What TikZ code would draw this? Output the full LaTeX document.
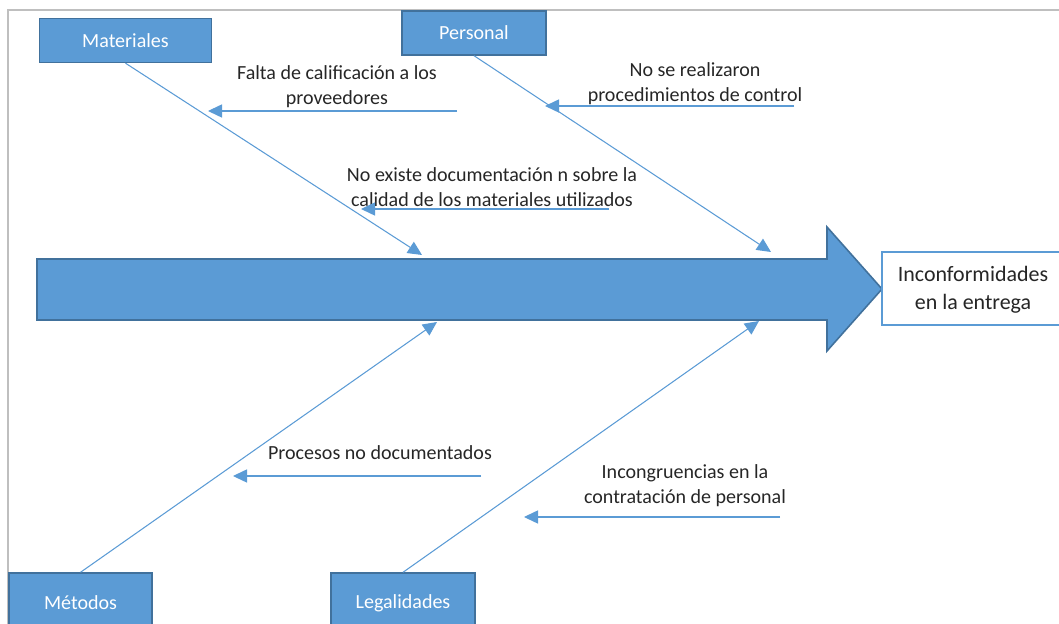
\documentclass[tikz,border=0pt]{standalone}
\usepackage{fontspec}
\setmainfont{Carlito}
\usetikzlibrary{arrows.meta}
\definecolor{azul}{HTML}{5B9BD5}
\definecolor{azulborde}{HTML}{41719C}
\definecolor{marco}{HTML}{BFBFBF}
\tikzset{
  categoria/.style={draw=azulborde,fill=azul,text=white,line width=0.8pt,inner sep=0pt,font=\fontsize{11.4}{14}\selectfont},
  espina/.style={azul,line width=0.6pt,-{Triangle[length=8pt,width=7.5pt]}},
  texto/.style={align=center,inner sep=0pt,text=black!85,font=\fontsize{11.4}{14.4}\selectfont}
}
\begin{document}
\begin{tikzpicture}[x=0.02cm,y=-0.02cm]
\useasboundingbox (0,0) rectangle (1059,624);
\clip (0,0) rectangle (1059,624);
\draw[marco,line width=0.85pt] (8,640) -- (8,10) -- (1070,10);

\fill[azul,draw=azulborde,line width=0.9pt] (37,259) -- (827,259) -- (827,227) -- (882,289)
  -- (827,351) -- (827,320) -- (37,320) -- cycle;
\node[draw=azul,fill=white,line width=0.9pt,minimum width=3.64cm,minimum height=1.46cm,
  inner sep=0pt] (efecto) at (973,288.5) {};
\node[texto,font=\fontsize{12.5}{16}\selectfont] (efectotxt) at (973,290) {Inconformidades\\en la entrega};

\node[categoria,minimum width=3.44cm,minimum height=0.88cm] (mat) at (125.5,40.5) {Materiales};
\node[categoria,minimum width=2.88cm,minimum height=0.88cm] (per) at (474,33) {Personal};
\node[categoria,minimum width=2.86cm,minimum height=1.2cm] (met) at (80.5,603) {Métodos};
\node[categoria,minimum width=2.88cm,minimum height=1.2cm] (leg) at (403,603) {Legalidades};

\coordinate (pmat) at (422,255);
\coordinate (pper) at (771,252);
\coordinate (pmet) at (437,322);
\coordinate (pleg) at (759,321);
\draw[espina] (mat.south) -- (pmat);
\draw[espina] (per.south) -- (pper);
\draw[espina] (met.north) -- (pmet);
\draw[espina] (leg.north) -- (pleg);

\node[texto] (c1) at (337,86.5) {Falta de calificación a los\\proveedores};
\coordinate (c1a) at (457,111);
\coordinate (c1b) at (208,111);
\draw[espina] (c1a) -- (c1b);

\node[texto] (c2) at (492,187) {No existe documentación n sobre la\\calidad de los materiales utilizados};
\coordinate (c2a) at (609,209);
\coordinate (c2b) at (361,209);
\draw[espina] (c2a) -- (c2b);

\node[texto] (c3) at (695,84) {No se realizaron\\procedimientos de control};
\coordinate (c3a) at (794,106);
\coordinate (c3b) at (545,106);
\draw[espina] (c3a) -- (c3b);

\node[texto] (c4) at (380,453) {Procesos no documentados};
\coordinate (c4a) at (481,476);
\coordinate (c4b) at (233,476);
\draw[espina] (c4a) -- (c4b);

\node[texto] (c5) at (685,485.5) {Incongruencias en la\\contratación de personal};
\coordinate (c5a) at (780,517);
\coordinate (c5b) at (524,517);
\draw[espina] (c5a) -- (c5b);
\end{tikzpicture}
\end{document}
